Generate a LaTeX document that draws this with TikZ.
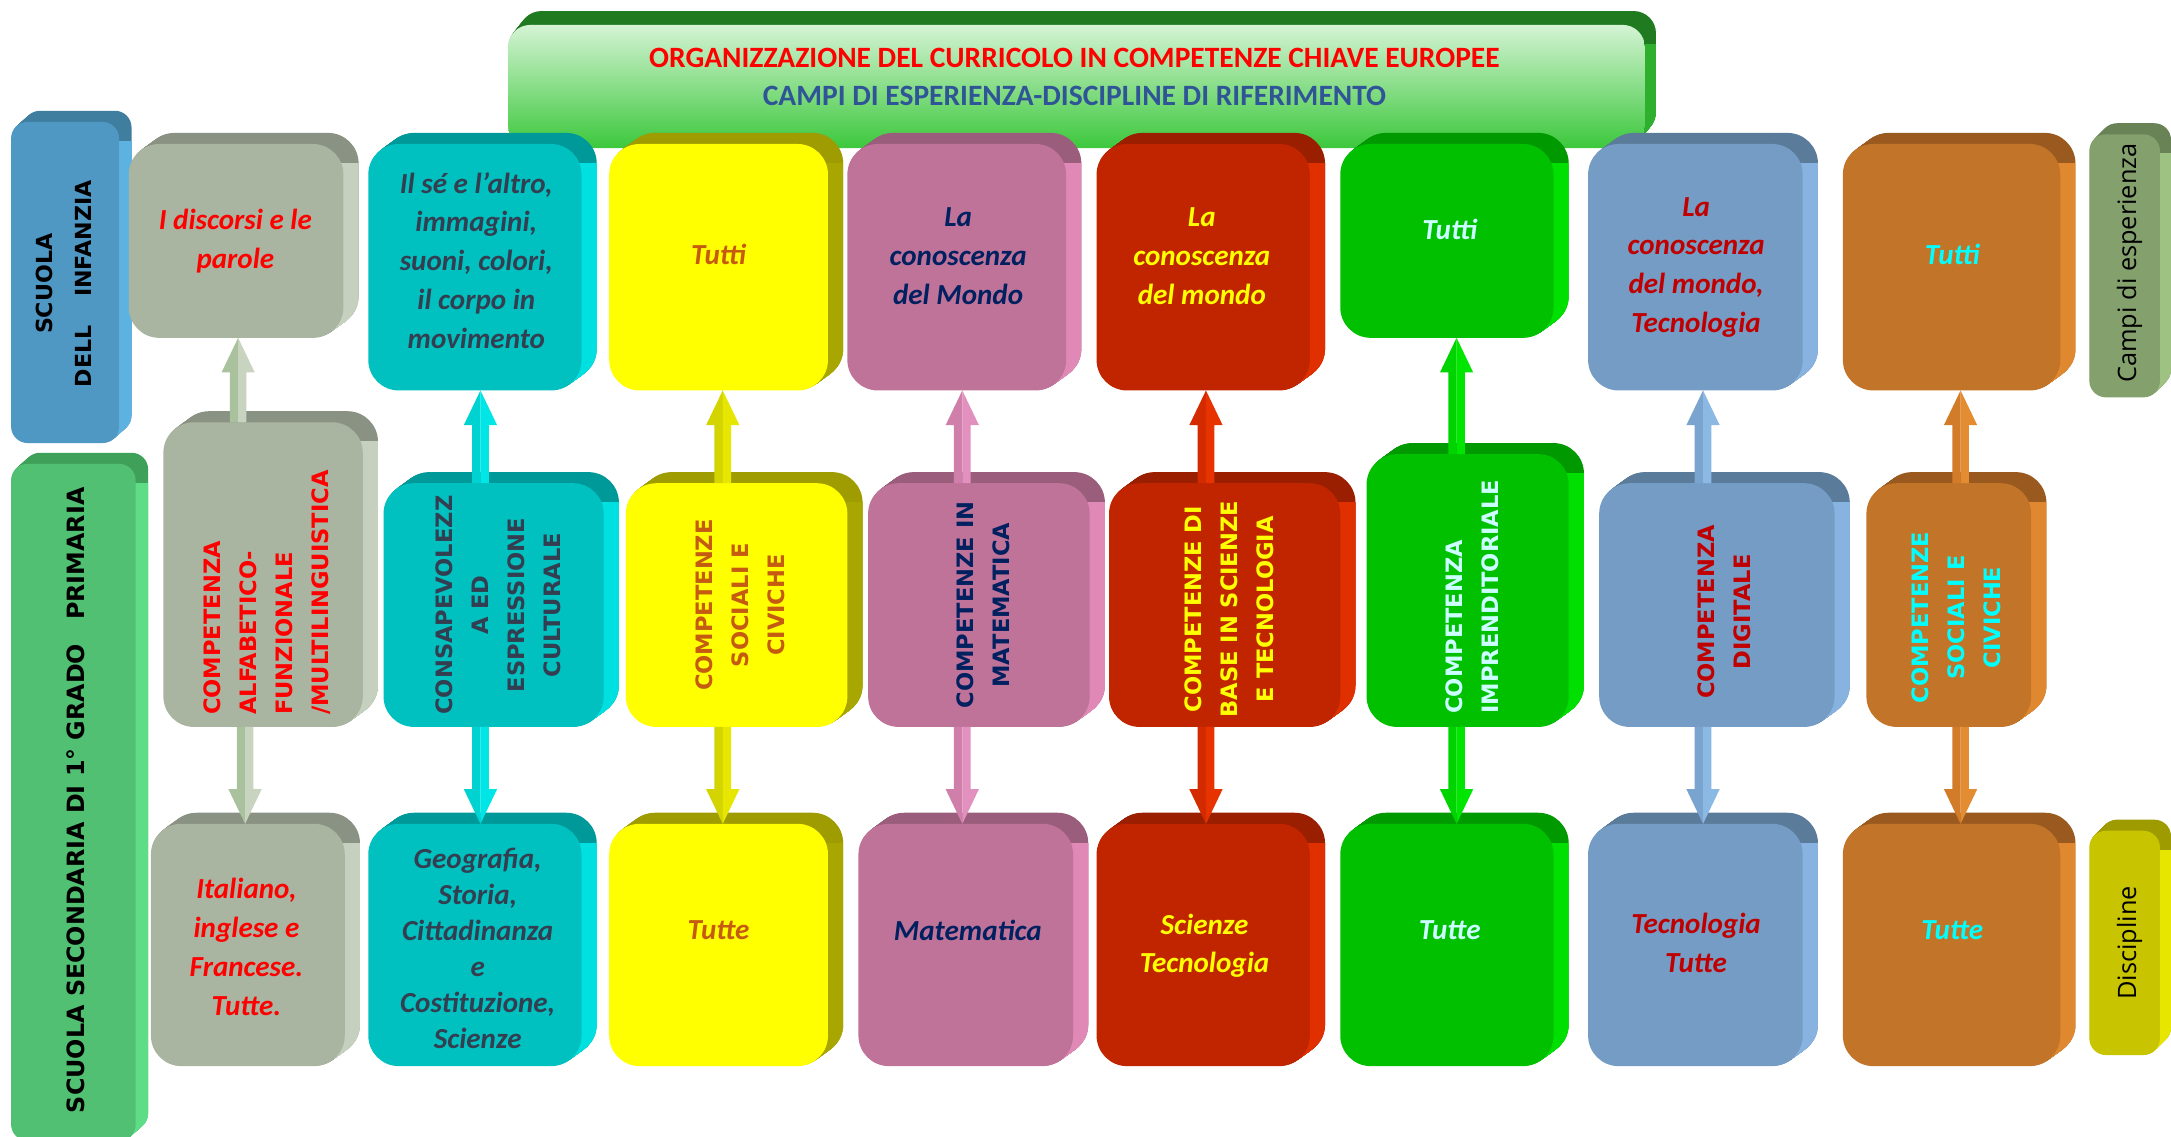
\documentclass[tikz,border=0pt]{standalone}
\usepackage{fontspec}
\setmainfont{Carlito}
\newfontfamily\dvs{DejaVu Sans}
\newfontfamily\osans{Open Sans}
\usetikzlibrary{calc}
% box colours: F front, T top, S side; arrows A left, B right
\definecolor{grF}{HTML}{A9B5A0}\definecolor{grT}{HTML}{8A9283}\definecolor{grS}{HTML}{C6D0BE}\definecolor{grA}{HTML}{A9C29D}\definecolor{grB}{HTML}{C8D4C0}
\definecolor{teF}{HTML}{00C0C0}\definecolor{teT}{HTML}{009999}\definecolor{teS}{HTML}{00E0E0}\definecolor{teA}{HTML}{00D2D2}\definecolor{teB}{HTML}{00E6E6}
\definecolor{yeF}{HTML}{FFFF00}\definecolor{yeT}{HTML}{9E9C00}\definecolor{yeS}{HTML}{A8A600}\definecolor{yeA}{HTML}{D4D400}\definecolor{yeB}{HTML}{E6E600}
\definecolor{pkF}{HTML}{C07399}\definecolor{pkT}{HTML}{9A5E7C}\definecolor{pkS}{HTML}{E088B6}\definecolor{pkA}{HTML}{D07EAA}\definecolor{pkB}{HTML}{E290BE}
\definecolor{rdF}{HTML}{C12500}\definecolor{rdT}{HTML}{9A1E00}\definecolor{rdS}{HTML}{E03000}\definecolor{rdA}{HTML}{D42A00}\definecolor{rdB}{HTML}{E63300}
\definecolor{gnF}{HTML}{00C000}\definecolor{gnT}{HTML}{009A00}\definecolor{gnS}{HTML}{00E000}\definecolor{gnA}{HTML}{00D400}\definecolor{gnB}{HTML}{00E600}
\definecolor{blF}{HTML}{759CC4}\definecolor{blT}{HTML}{5B7B9B}\definecolor{blS}{HTML}{88B3E0}\definecolor{blA}{HTML}{7AA4D0}\definecolor{blB}{HTML}{8CB8E4}
\definecolor{orF}{HTML}{C27428}\definecolor{orT}{HTML}{9A5A1F}\definecolor{orS}{HTML}{E08830}\definecolor{orA}{HTML}{D27C2A}\definecolor{orB}{HTML}{E48C32}
\definecolor{bbF}{HTML}{4F98C3}\definecolor{bbT}{HTML}{3F7E9F}\definecolor{bbS}{HTML}{5EB2E2}
\definecolor{gbF}{HTML}{52C072}\definecolor{gbT}{HTML}{3FA05A}\definecolor{gbS}{HTML}{5EDD86}
\definecolor{caF}{HTML}{84A06C}\definecolor{caT}{HTML}{6A8356}\definecolor{caS}{HTML}{9DC282}
\definecolor{diF}{HTML}{C8C400}\definecolor{diT}{HTML}{9D9B00}\definecolor{diS}{HTML}{E6E600}
\definecolor{tiT}{HTML}{207A20}\definecolor{tiS}{HTML}{2EB02E}\definecolor{tiTop}{HTML}{D4F3D4}\definecolor{tiBot}{HTML}{3CC83C}
% text colours
\definecolor{cRed}{HTML}{FF0000}\definecolor{cDkRed}{HTML}{C00000}\definecolor{cNavy}{HTML}{002060}
\definecolor{cSlate}{HTML}{333F50}\definecolor{cBrown}{HTML}{C55A11}\definecolor{cCyan}{HTML}{00FFFF}
\definecolor{cLtCyan}{HTML}{CCFFFF}\definecolor{cYel}{HTML}{FFFF00}\definecolor{cTiBlue}{HTML}{2F5597}

\def\rad{22pt}\def\ddx{11}\def\ddy{8}
% 3D box: name, x1, y1, x2, y2, colour prefix, front style
\newcommand\Cube[7]{%
  \pgfmathsetmacro\cx{(#2+#4)/2}%
  \pgfmathsetmacro\cy{(#3+#5)/2}%
  \pgfmathsetmacro\cw{#4-#2}%
  \pgfmathsetmacro\ch{#5-#3}%
  \foreach \k in {1,...,20}{\fill[#6T,rounded corners=\rad,shift={(\k*\ddx/20,-\k*\ddy/20)}] (#2,#3) rectangle (#4,#5);}%
  \begin{scope}
    \clip (#4-8,#3+14) rectangle (#4+\ddx+3,#5+3);
    \foreach \k in {1,...,20}{\fill[#6S,rounded corners=\rad,shift={(\k*\ddx/20,-\k*\ddy/20)}] (#2,#3) rectangle (#4,#5);}%
  \end{scope}
  \node[#7,rounded corners=\rad,minimum width=\cw pt,minimum height=\ch pt,inner sep=0pt,outer sep=0pt] (#1) at (\cx,\cy) {};
}
% block arrows: from node, to node, x, colour prefix
\newcommand\UpArr[4]{%
  \fill[#4A] let \p1=(#1.north),\p2=(#2.south) in
    ({#3pt-6pt},\y1) -- ({#3pt-6pt},{\y2-25pt}) -- ({#3pt-12pt},{\y2-25pt}) -- ({#3pt},\y2) -- ({#3pt},\y1) -- cycle;
  \fill[#4B] let \p1=(#1.north),\p2=(#2.south) in
    ({#3pt},\y1) -- ({#3pt},\y2) -- ({#3pt+12pt},{\y2-25pt}) -- ({#3pt+6pt},{\y2-25pt}) -- ({#3pt+6pt},\y1) -- cycle;
}
\newcommand\DnArr[4]{%
  \fill[#4A] let \p1=(#1.south),\p2=(#2.north) in
    ({#3pt-6pt},\y1) -- ({#3pt-6pt},{\y2+25pt}) -- ({#3pt-12pt},{\y2+25pt}) -- ({#3pt},\y2) -- ({#3pt},\y1) -- cycle;
  \fill[#4B] let \p1=(#1.south),\p2=(#2.north) in
    ({#3pt},\y1) -- ({#3pt},\y2) -- ({#3pt+12pt},{\y2+25pt}) -- ({#3pt+6pt},{\y2+25pt}) -- ({#3pt+6pt},\y1) -- cycle;
}

\begin{document}
\begin{tikzpicture}[x=1pt,y=-1pt,
  camp/.style={font=\fontsize{21}{28}\selectfont\bfseries\itshape,align=center,inner sep=0pt},
  disc/.style={font=\fontsize{21}{28}\selectfont\bfseries\itshape,align=center,inner sep=0pt},
  comp/.style={font=\dvs\bfseries\fontsize{16.3}{26}\selectfont,rotate=90,align=center,inner sep=0pt},
  bar/.style={font=\dvs\bfseries\fontsize{16}{28}\selectfont,rotate=90,align=center,inner sep=0pt},
  side/.style={font=\osans\fontsize{18.3}{20}\selectfont,rotate=90,inner sep=0pt}]
\fill[white] (0,0) rectangle (1568,821);
\useasboundingbox (0,0) rectangle (1568,821);

% title
\def\rad{16pt}\def\ddx{8}\def\ddy{10}
\Cube{title}{367}{18}{1188}{107}{ti}{top color=tiTop,bottom color=tiBot}

% school bars
\def\rad{12pt}\def\ddx{9}\def\ddy{8}
\Cube{infanzia}{8}{88}{86}{320}{bb}{fill=bbF}
\Cube{primaria}{8}{335}{98}{824}{gb}{fill=gbF}
\def\ddx{8}
\Cube{campi}{1509}{97}{1560}{287}{ca}{fill=caF}
\Cube{discipline}{1509}{600}{1560}{762}{di}{fill=diF}

% boxes
\def\rad{22pt}\def\ddx{11}\def\ddy{8}
\Cube{t1}{93}{104}{248}{244}{gr}{fill=grF}
\Cube{t2}{266}{104}{420}{282}{te}{fill=teF}
\Cube{t3}{440}{104}{598}{282}{ye}{fill=yeF}
\Cube{t4}{612}{104}{770}{282}{pk}{fill=pkF}
\Cube{t5}{792}{104}{946}{282}{rd}{fill=rdF}
\Cube{t6}{968}{104}{1122}{244}{gn}{fill=gnF}
\Cube{t7}{1147}{104}{1302}{282}{bl}{fill=blF}
\Cube{t8}{1331}{104}{1488}{282}{or}{fill=orF}

\Cube{m1}{118}{305}{262}{525}{gr}{fill=grF}
\Cube{m2}{277}{349}{436}{525}{te}{fill=teF}
\Cube{m3}{452}{349}{612}{525}{ye}{fill=yeF}
\Cube{m4}{627}{349}{787}{525}{pk}{fill=pkF}
\Cube{m5}{801}{349}{968}{525}{rd}{fill=rdF}
\Cube{m6}{987}{328}{1133}{525}{gn}{fill=gnF}
\Cube{m7}{1155}{349}{1325}{525}{bl}{fill=blF}
\Cube{m8}{1348}{349}{1467}{525}{or}{fill=orF}

\Cube{b1}{109}{595}{249}{770}{gr}{fill=grF}
\Cube{b2}{266}{595}{420}{770}{te}{fill=teF}
\Cube{b3}{440}{595}{598}{770}{ye}{fill=yeF}
\Cube{b4}{620}{595}{775}{770}{pk}{fill=pkF}
\Cube{b5}{792}{595}{946}{770}{rd}{fill=rdF}
\Cube{b6}{968}{595}{1122}{770}{gn}{fill=gnF}
\Cube{b7}{1147}{595}{1302}{770}{bl}{fill=blF}
\Cube{b8}{1331}{595}{1488}{770}{or}{fill=orF}

% arrows
\UpArr{m1}{t1}{172}{gr}\DnArr{m1}{b1}{177}{gr}
\UpArr{m2}{t2}{347}{te}\DnArr{m2}{b2}{347}{te}
\UpArr{m3}{t3}{522}{ye}\DnArr{m3}{b3}{522}{ye}
\UpArr{m4}{t4}{695}{pk}\DnArr{m4}{b4}{695}{pk}
\UpArr{m5}{t5}{871}{rd}\DnArr{m5}{b5}{871}{rd}
\UpArr{m6}{t6}{1052}{gn}\DnArr{m6}{b6}{1052}{gn}
\UpArr{m7}{t7}{1230}{bl}\DnArr{m7}{b7}{1230}{bl}
\UpArr{m8}{t8}{1416}{or}\DnArr{m8}{b8}{1416}{or}

% title text
\node[font=\fontsize{21.3}{26}\selectfont\bfseries,text=cRed,inner sep=0pt] (title1) at (776,42) {ORGANIZZAZIONE DEL CURRICOLO IN COMPETENZE CHIAVE EUROPEE};
\node[font=\fontsize{21.3}{26}\selectfont\bfseries,text=cTiBlue,inner sep=0pt] (title2) at (776,69) {CAMPI DI ESPERIENZA-DISCIPLINE DI RIFERIMENTO};

% bar texts
\node[bar] (infanziat) at (46,205) {SCUOLA\\DELL\hspace{1.3em}INFANZIA};
\node[bar,font=\dvs\bfseries\fontsize{17.2}{28}\selectfont] (primariat) at (55,578) {SCUOLA SECONDARIA DI 1° GRADO\hspace{1em}PRIMARIA};
\node[side] (campit) at (1538,190) {Campi di esperienza};
\node[side] (disciplinet) at (1538,681) {Discipline};

% campi di esperienza
\node[camp,text=cRed] (t1t) at (170,174) {I discorsi e le\\parole};
\node[camp,text=cSlate] (t2t) at (344,188) {Il sé e l’altro,\\immagini,\\suoni, colori,\\il corpo in\\movimento};
\node[camp,text=cBrown] (t3t) at (519,184) {Tutti};
\node[camp,text=cNavy] (t4t) at (692,185) {La\\conoscenza\\del Mondo};
\node[camp,text=cYel] (t5t) at (868,185) {La\\conoscenza\\del mondo};
\node[camp,text=cLtCyan] (t6t) at (1047,166) {Tutti};
\node[camp,text=cDkRed] (t7t) at (1225,193) {La\\conoscenza\\del mondo,\\Tecnologia};
\node[camp,text=cCyan] (t8t) at (1410,184) {Tutti};

% competenze
\node[comp,align=left,text=cRed] (m1t) at (193,428) {COMPETENZA\\ALFABETICO-\\FUNZIONALE\\/MULTILINGUISTICA};
\node[comp,text=cSlate] (m2t) at (360,437) {CONSAPEVOLEZZ\\A ED\\ESPRESSIONE\\CULTURALE};
\node[comp,text=cBrown] (m3t) at (535,437) {COMPETENZE\\SOCIALI E\\CIVICHE};
\node[comp,text=cNavy] (m4t) at (710,437) {COMPETENZE IN\\MATEMATICA};
\node[comp,text=cYel] (m5t) at (888,440) {COMPETENZE DI\\BASE IN SCIENZE\\E TECNOLOGIA};
\node[comp,align=left,text=cLtCyan] (m6t) at (1063,431) {COMPETENZA\\IMPRENDITORIALE};
\node[comp,text=cDkRed] (m7t) at (1245,442) {COMPETENZA\\DIGITALE};
\node[comp,text=cCyan] (m8t) at (1413,446) {COMPETENZE\\SOCIALI E\\CIVICHE};

% discipline
\node[disc,text=cRed] (b1t) at (178,684) {Italiano,\\inglese e\\Francese.\\Tutte.};
\node[disc,text=cSlate,font=\fontsize{21}{26}\selectfont\bfseries\itshape] (b2t) at (345,685) {Geografia,\\Storia,\\Cittadinanza\\e\\Costituzione,\\Scienze};
\node[disc,text=cBrown] (b3t) at (519,672) {Tutte};
\node[disc,text=cNavy] (b4t) at (699,672) {Matematica};
\node[disc,text=cYel] (b5t) at (870,683) {Scienze\\Tecnologia};
\node[disc,text=cLtCyan] (b6t) at (1047,672) {Tutte};
\node[disc,text=cDkRed] (b7t) at (1225,681) {Tecnologia\\Tutte};
\node[disc,text=cCyan] (b8t) at (1410,672) {Tutte};
\end{tikzpicture}
\end{document}
